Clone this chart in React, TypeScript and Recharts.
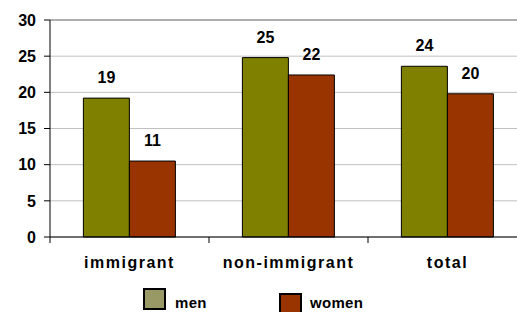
import { BarChart, Bar, XAxis, YAxis, CartesianGrid, Legend, LabelList, ReferenceLine } from 'recharts';

const categories = ['immigrant', 'non-immigrant', 'total'];
const men = [19.2, 24.8, 23.6];
const women = [10.5, 22.4, 19.8];
const yTicks = [0, 5, 10, 15, 20, 25, 30];

const data = categories.map((name, i) => ({ name, men: men[i], women: women[i] }));

const FONT = '"Liberation Sans", Arial, sans-serif';
const TICK_SIZE = 6;
const TICK_MARGIN = 14;

function CategoryTick(props: any) {
  const { x, y, payload, width, visibleTicksCount } = props;
  const band = width / visibleTicksCount;
  const axisY = y - TICK_SIZE - TICK_MARGIN;
  return (
    <g>
      <line x1={x - band / 2} x2={x - band / 2} y1={axisY} y2={axisY + TICK_SIZE} stroke="#000" />
      <text
        x={x}
        y={y}
        dy="0.71em"
        textAnchor="middle"
        fontFamily={FONT}
        fontSize={16}
        fontWeight="bold"
        letterSpacing={1.5}
        fill="#000"
      >
        {payload.value}
      </text>
    </g>
  );
}

function ValueTick(props: any) {
  const { x, y, payload } = props;
  return (
    <text
      x={x}
      y={y}
      dy="0.36em"
      textAnchor="end"
      fontFamily={FONT}
      fontSize={16}
      fontWeight="bold"
      fill="#000"
    >
      {payload.value}
    </text>
  );
}

function LegendBox() {
  const box = (bg: string, left: number, top: number) => (
    <div
      style={{
        position: 'absolute',
        left,
        top,
        width: 23,
        height: 22,
        boxSizing: 'border-box',
        border: '2px solid #000',
        background: bg,
      }}
    />
  );
  const label = (text: string, left: number) => (
    <span
      style={{
        position: 'absolute',
        left,
        top: 17,
        fontFamily: FONT,
        fontSize: 15,
        fontWeight: 'bold',
        letterSpacing: 0.3,
        color: '#000',
        whiteSpace: 'nowrap',
      }}
    >
      {text}
    </span>
  );
  return (
    <div style={{ position: 'relative', height: 30 }}>
      {box('#999966', 143, 11)}
      {label('men', 175)}
      {box('#993300', 279, 16)}
      {label('women', 310)}
    </div>
  );
}

export default function App() {
  return (
    <div
      style={{
        position: 'fixed',
        left: 0,
        top: 0,
        width: 517,
        height: 312,
        overflow: 'hidden',
        background: '#fff',
      }}
    >
      <BarChart
        width={530}
        height={312}
        data={data}
        margin={{ top: 20, right: 3, left: 0, bottom: 5 }}
        barCategoryGap="21%"
        barGap={0}
      >
        <CartesianGrid vertical={false} stroke="#c0c0c0" />
        <ReferenceLine y={30} stroke="#808080" />
        <XAxis
          dataKey="name"
          height={40}
          stroke="#000"
          tickLine={false}
          tickSize={TICK_SIZE}
          tickMargin={TICK_MARGIN}
          tick={<CategoryTick />}
          interval={0}
        />
        <YAxis
          width={50}
          domain={[0, 30]}
          ticks={yTicks}
          stroke="#000"
          tickSize={TICK_SIZE}
          tickMargin={8}
          tick={<ValueTick />}
        />
        <Legend verticalAlign="bottom" height={30} content={<LegendBox />} />
        <Bar dataKey="men" fill="#808000" stroke="#000" strokeWidth={1} isAnimationActive={false}>
          <LabelList
            dataKey="men"
            position="top"
            offset={15}
            formatter={(v: any) => Math.round(v)}
            style={{ fontFamily: FONT, fontSize: 16, fontWeight: 'bold', fill: '#000' }}
          />
        </Bar>
        <Bar dataKey="women" fill="#993300" stroke="#000" strokeWidth={1} isAnimationActive={false}>
          <LabelList
            dataKey="women"
            position="top"
            offset={15}
            formatter={(v: any) => Math.round(v)}
            style={{ fontFamily: FONT, fontSize: 16, fontWeight: 'bold', fill: '#000' }}
          />
        </Bar>
      </BarChart>
    </div>
  );
}
